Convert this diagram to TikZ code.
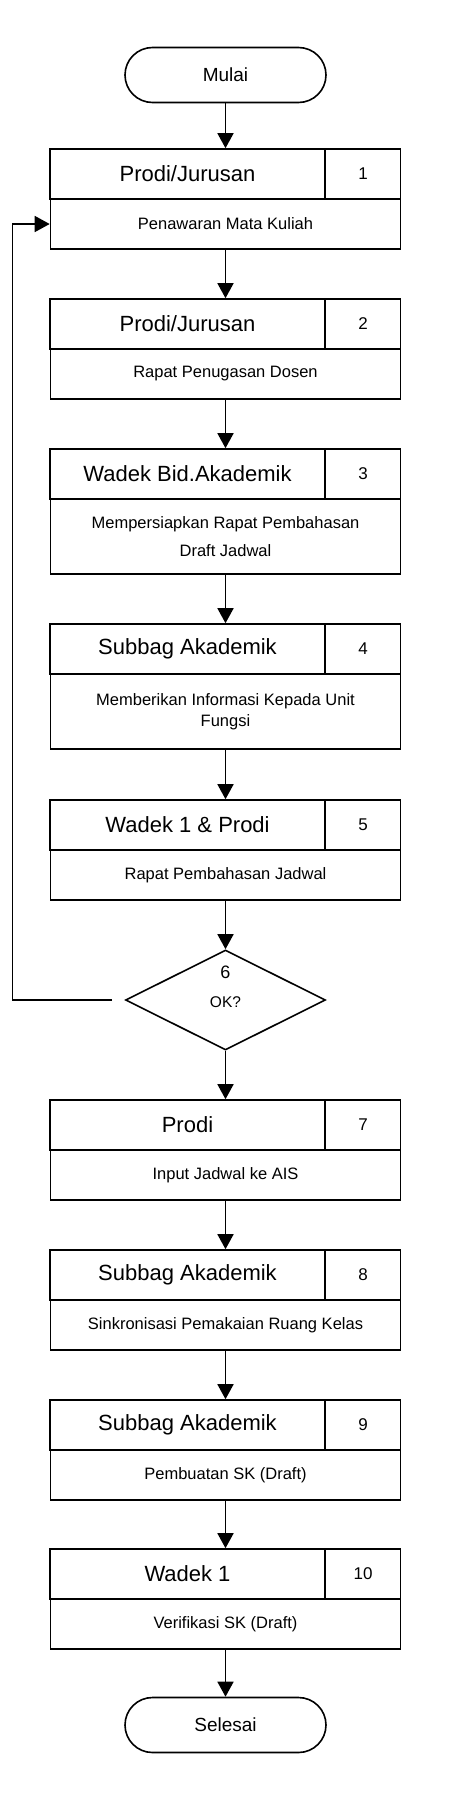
\documentclass[tikz,border=0pt]{standalone}
\usepackage{fontspec}
\setmainfont{Liberation Sans}
\usetikzlibrary{shapes.geometric,arrows.meta}

\begin{document}
\begin{tikzpicture}[x=1pt,y=1pt,line width=1.6pt,
  head/.style={draw,minimum width=275pt,minimum height=50pt,inner sep=0pt,font=\fontsize{22}{26}\selectfont},
  num/.style={draw,minimum width=75pt,minimum height=50pt,inner sep=0pt,font=\fontsize{17}{20}\selectfont},
  body/.style={draw,minimum width=350pt,minimum height=50pt,inner sep=0pt,align=center,font=\fontsize{16.5}{28}\selectfont},
  term/.style={draw,rounded corners=27.5pt,minimum width=201pt,minimum height=55pt,font=\fontsize{19}{22}\selectfont},
  arr/.style={-{Triangle[length=15pt,width=16pt]}}]

\useasboundingbox (0,0) rectangle (473,-1812);

\node[term] (mulai) at (225.5,-75) {Mulai};

\node[head] (h1) at (187.5,-174) {Prodi/Jurusan};
\node[num] (n1) at (363,-174) {1};
\node[body] (b1) at (225.5,-224) {Penawaran Mata Kuliah};

\node[head] (h2) at (187.5,-324) {Prodi/Jurusan};
\node[num] (n2) at (363,-324) {2};
\node[body] (b2) at (225.5,-374) {Rapat Penugasan Dosen};

\node[head] (h3) at (187.5,-474) {Wadek Bid.Akademik};
\node[num] (n3) at (363,-474) {3};
\node[body,minimum height=75pt] (b3) at (225.5,-536.5) {Mempersiapkan Rapat Pembahasan\\Draft Jadwal};

\node[head] (h4) at (187.5,-649) {Subbag Akademik};
\node[num] (n4) at (363,-649) {4};
\node[body,minimum height=75pt,font=\fontsize{16.5}{21}\selectfont] (b4) at (225.5,-711.5) {Memberikan Informasi Kepada Unit\\Fungsi};

\node[head] (h5) at (187.5,-825) {Wadek 1 \& Prodi};
\node[num] (n5) at (363,-825) {5};
\node[body] (b5) at (225.5,-875) {Rapat Pembahasan Jadwal};

\node[draw,diamond,minimum width=200pt,minimum height=100pt,inner sep=0pt] (ok) at (225.5,-1000) {};
\node[font=\fontsize{18}{20}\selectfont] (d6) at (225.5,-972) {6};
\node[font=\fontsize{15.5}{18}\selectfont] (dok) at (225.5,-1002) {OK?};

\node[head] (h7) at (187.5,-1125) {Prodi};
\node[num] (n7) at (363,-1125) {7};
\node[body] (b7) at (225.5,-1175) {Input Jadwal ke AIS};

\node[head] (h8) at (187.5,-1275) {Subbag Akademik};
\node[num] (n8) at (363,-1275) {8};
\node[body] (b8) at (225.5,-1325) {Sinkronisasi Pemakaian Ruang Kelas};

\node[head] (h9) at (187.5,-1425) {Subbag Akademik};
\node[num] (n9) at (363,-1425) {9};
\node[body] (b9) at (225.5,-1475) {Pembuatan SK (Draft)};

\node[head] (h10) at (187.5,-1574) {Wadek 1};
\node[num] (n10) at (363,-1574) {10};
\node[body] (b10) at (225.5,-1624) {Verifikasi SK (Draft)};

\node[term] (selesai) at (225.5,-1725) {Selesai};

\draw[arr] (mulai) -- (mulai |- h1.north);
\draw[arr] (b1.south) -- (b1.south |- h2.north);
\draw[arr] (b2.south) -- (b2.south |- h3.north);
\draw[arr] (b3.south) -- (b3.south |- h4.north);
\draw[arr] (b4.south) -- (b4.south |- h5.north);
\draw[arr] (b5.south) -- (ok.north);
\draw[arr] (ok.south) -- (ok.south |- h7.north);
\draw[arr] (b7.south) -- (b7.south |- h8.north);
\draw[arr] (b8.south) -- (b8.south |- h9.north);
\draw[arr] (b9.south) -- (b9.south |- h10.north);
\draw[arr] (b10.south) -- (selesai);

\coordinate (gap) at ([xshift=-12.5pt]ok.west);
\coordinate (back) at (12.5,-1000);
\draw[arr] (gap) -- (back) |- (b1.west);

\end{tikzpicture}
\end{document}
